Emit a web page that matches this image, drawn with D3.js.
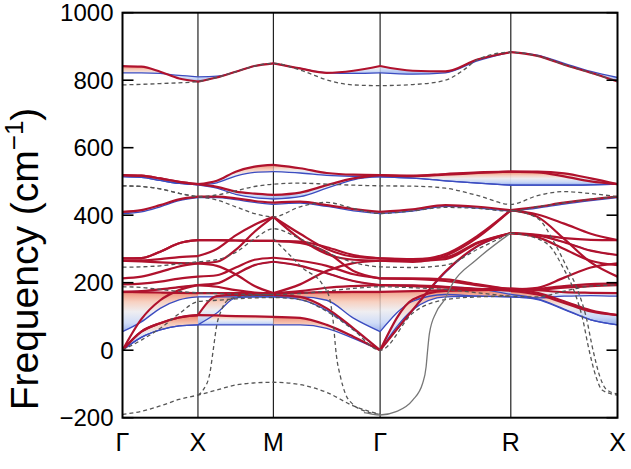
<!DOCTYPE html>
<html><head><meta charset="utf-8">
<script src="https://cdn.jsdelivr.net/npm/d3@7"></script>
<style>body{margin:0;background:#fff} svg{display:block}</style>
</head><body><svg id="chart" width="631" height="469"></svg>
<script>
// ---- axis data ----
const kPoints = [0, 0.5, 1.0, 1.7071, 2.5731, 3.2802];
const kLabels = ["Γ", "X", "M", "Γ", "R", "X"];
const yTicks = [-200, 0, 200, 400, 600, 800, 1000];
const kGrid = [0,0.125,0.25,0.375,0.5, 0.625,0.75,0.875,1.0, 1.1768,1.3536,1.5303,1.7071, 1.9236,2.1401,2.3566,2.5731, 2.7499,2.9267,3.1034,3.2802];

// ---- temperature-dependent bands (hot = highest T, red; cold = lowest T, blue) ----
const bandLO_hot  = [842,840,825,805,796,808,825,842,850,835,822,828,842,828,826,862,883,872,846,822,796];
const bandLO_cold = [822,822,820,814,810,812,825,842,850,835,822,820,822,818,822,858,883,874,850,826,808];
const bandA1_hot  = [519,517,509,499,492,502,529,544,549,539,525,520,519,517,522,527,529,529,524,509,492];
const bandA1_cold = [514,512,503,494,490,496,516,527,529,525,518,515,514,510,502,495,489,489,489,490,492];
const bandA2_hot  = [519,517,509,499,492,484,470,464,460,467,489,509,519,516,520,525,529,527,515,500,492];
const bandA2_cold = [514,512,503,494,490,480,462,452,448,455,480,505,514,510,502,495,489,489,489,490,492];
const bandB_hot   = [410,415,430,447,455,455,450,442,437,440,430,418,410,417,430,425,415,425,437,447,455];
const bandB_cold  = [405,410,425,443,452,452,446,438,432,436,426,413,405,412,426,421,412,421,433,443,452];
const bandTA1_hot  = [0,55,80,97,104,103,101,100,99,96,75,40,0,150,176,178,180,170,145,118,104];
const bandTA1_cold = [0,38,60,72,75,75,75,75,75,75,65,35,0,120,158,160,158,150,120,90,75];
const bandTA2_hot  = [0,55,80,97,104,160,164,164,164,158,124,65,0,120,233,310,347,340,320,295,282];
const bandTA2_cold = [0,38,60,72,75,110,155,158,158,150,118,62,0,118,230,308,347,340,320,295,282];
const bandLA_hot   = [0,92,148,178,193,188,178,171,169,195,235,258,265,262,280,335,415,395,330,260,218];
const bandSoft_hot  = [173,172,171,170,169,169,169,169,169,170,172,173,173,175,178,180,183,178,172,170,169];
const bandSoft_cold = [55,84,124,149,158,158,158,158,158,158,148,95,55,145,165,160,158,155,160,162,160];
const bandS2_hot  = [173,175,180,187,193,198,225,252,262,250,228,205,193,192,188,182,176,165,140,115,104];
const bandS2_cold = [173,175,180,187,193,198,225,252,262,250,228,205,193,192,188,182,165,152,122,90,75];
const bandD_hot   = [195,197,203,212,218,222,245,268,274,265,250,225,213,213,210,195,180,185,215,245,257];
const bandC_hot   = [213,218,232,248,257,262,297,351,395,330,285,268,265,265,270,318,347,342,332,327,326];
const bandC2_hot  = [265,263,260,258,257,250,225,190,169,175,185,190,193,190,185,180,178,182,190,196,198];
const bandBb_hot  = [265,266,270,276,279,300,340,372,395,345,300,277,272,270,275,320,347,335,300,265,252];
const bandAa_hot  = [272,273,292,317,326,326,325,324,324,318,290,235,213,211,205,192,180,180,185,190,193];
const bandAa2_hot = [272,273,292,317,326,326,325,324,324,322,305,282,272,268,285,340,415,402,375,345,326];

// ---- harmonic reference (dashed) and one solid gray branch: [k, frequency] ----
const harmTop = [[0,786],[0.25,790],[0.5,796],[0.625,808],[0.75,825],[0.875,842],[1.0,850],[1.1768,830],[1.392,796],[1.53,786],[1.7071,784],[1.9236,787],[2.1401,800],[2.26,830],[2.3566,862],[2.5731,883],[2.7499,872],[2.9267,846],[3.1034,822],[3.2802,796]];
const harmA1 = [[0,487],[0.125,485],[0.25,478],[0.375,465],[0.5,455],[0.625,460],[0.75,472],[0.875,485],[1.0,492],[1.1768,495],[1.3536,492],[1.5303,489],[1.7071,487],[1.9236,486],[2.1401,480],[2.3566,458],[2.5731,432],[2.7499,458],[2.9267,470],[3.1034,464],[3.2802,455]];
const harmA2 = [[0,487],[0.125,485],[0.25,478],[0.375,465],[0.5,455],[0.625,445],[0.75,425],[0.875,405],[1.0,395],[1.1768,425],[1.3536,438],[1.5303,420],[1.7071,405],[1.9236,413],[2.1401,423],[2.3566,420],[2.5731,412],[2.7499,425],[2.9267,437],[3.1034,447],[3.2802,455]];
const harm246 = [[0,246],[0.125,247],[0.25,250],[0.375,256],[0.5,262],[0.625,268],[0.75,290],[0.875,330],[1.0,360],[1.1768,330],[1.3536,290],[1.5303,260],[1.7071,247],[1.9236,245],[2.1401,252],[2.3566,300],[2.5731,347]];
const harm188 = [[0,188],[0.125,186],[0.25,180],[0.375,174],[0.5,170],[0.625,168],[0.75,166],[0.875,165],[1.0,165],[1.1768,168],[1.3536,175],[1.5303,183],[1.7071,188],[1.9236,185],[2.1401,180],[2.3566,170],[2.5731,160],[2.7499,158],[2.9267,175],[3.1034,190],[3.2802,193]];
const harmAcoustic = [[0,0],[0.125,30],[0.25,65],[0.375,108],[0.5,144],[0.625,148],[0.75,152],[0.875,155],[1.0,156],[1.1768,150],[1.3536,115],[1.5303,60],[1.7071,0],[1.9236,110],[2.1401,150],[2.3566,158],[2.5731,160]];
const harmSoft = [[0,-190],[0.125,-181],[0.25,-165],[0.375,-146],[0.5,-133],[0.625,-118],[0.75,-103],[0.875,-97],[1.0,-95],[1.1768,-102],[1.3536,-125],[1.5303,-165],[1.7071,-190]];
const harmSoftX = [[0.5,-133],[0.534,-118],[0.579,-68],[0.601,0],[0.623,70],[0.656,119],[0.70,149],[0.777,159],[0.88,163],[1.0,165]];
const harmSoftM = [[1.0,330],[1.086,292],[1.196,243],[1.328,193],[1.372,154],[1.394,94],[1.417,-14],[1.445,-80],[1.478,-130],[1.526,-160],[1.604,-180],[1.7071,-190]];
const harmRX1 = [[2.5731,347],[2.753,330],[2.847,300],[2.913,250],[2.993,175],[3.046,99],[3.092,0],[3.138,-79],[3.178,-118],[3.2802,-133]];
const harmRX2 = [[2.5731,415],[2.753,390],[2.86,320],[2.94,250],[3.019,175],[3.072,99],[3.118,0],[3.164,-79],[3.204,-115],[3.2802,-130]];
const solidBranch = [[1.60,-185],[1.637,-188],[1.7071,-192],[1.813,-182],[1.923,-148],[1.989,-98],[2.012,-49],[2.022,0],[2.034,50],[2.078,112],[2.133,149],[2.188,198],[2.343,267],[2.5731,347]];

// ---- scales ----
const svg = d3.select("#chart");
const x = d3.scaleLinear().domain([0, 3.2802]).range([122.5, 617.5]);
const y = d3.scaleLinear().domain([-200, 1000]).range([417.7, 12.7]);
const FONT = "'Liberation Sans', Arial, sans-serif";

const defs = svg.append("defs");
defs.append("clipPath").attr("id", "clip").append("rect")
  .attr("x", x(0)).attr("y", y(1000)).attr("width", x(3.2802) - x(0)).attr("height", y(-200) - y(1000));
const grad = defs.append("linearGradient").attr("id", "fan").attr("x1", 0).attr("y1", 0).attr("x2", 0).attr("y2", 1);
[[0, "#d04a45"], [0.07, "#f0937a"], [0.25, "#f6c9b6"], [0.5, "#ecebef"], [0.78, "#c8d7f6"], [1, "#8fa8ea"]]
  .forEach(([o, c]) => grad.append("stop").attr("offset", o).attr("stop-color", c));

const plot = svg.append("g").attr("clip-path", "url(#clip)");

// high-symmetry vertical lines
plot.selectAll("line.sym").data(kPoints.slice(1, -1)).join("line")
  .attr("x1", d => x(d)).attr("x2", d => x(d)).attr("y1", y(1000)).attr("y2", y(-200))
  .attr("stroke", "#222").attr("stroke-width", 1.2);

const bands = [
  {hot: bandLO_hot, cold: bandLO_cold},
  {hot: bandA1_hot, cold: bandA1_cold},
  {hot: bandA2_hot, cold: bandA2_cold},
  {hot: bandB_hot, cold: bandB_cold},
  {hot: bandTA1_hot, cold: bandTA1_cold},
  {hot: bandTA2_hot, cold: bandTA2_cold},
  {hot: bandLA_hot, cold: null},
  {hot: bandSoft_hot, cold: bandSoft_cold},
  {hot: bandS2_hot, cold: bandS2_cold},
  {hot: bandD_hot, cold: null},
  {hot: bandC_hot, cold: null},
  {hot: bandC2_hot, cold: null},
  {hot: bandBb_hot, cold: null},
  {hot: bandAa_hot, cold: null},
  {hot: bandAa2_hot, cold: null}
];

const segIdx = s => d3.range(4 * s, 4 * s + 5);
const line = d3.line().x(d => x(d[0])).y(d => y(d[1])).curve(d3.curveMonotoneX);
const area = d3.area().x(d => x(d.k)).y0(d => y(d.c)).y1(d => y(d.h)).curve(d3.curveMonotoneX);

const pieces = [];
bands.forEach(b => {
  for (let s = 0; s < 5; s++) {
    const idx = segIdx(s);
    pieces.push({
      hot: idx.map(i => [kGrid[i], b.hot[i]]),
      cold: b.cold ? idx.map(i => [kGrid[i], b.cold[i]]) : null,
      both: b.cold ? idx.map(i => ({k: kGrid[i], h: b.hot[i], c: b.cold[i]})) : null
    });
  }
});

// fans between coldest and hottest curves
plot.append("g").selectAll("path")
  .data(pieces.filter(p => p.both && d3.max(p.both, d => Math.abs(d.h - d.c)) > 3))
  .join("path").attr("d", p => area(p.both))
  .attr("fill", "url(#fan)").attr("fill-opacity", 0.85).attr("stroke", "none");

// coldest curves
plot.append("g").selectAll("path").data(pieces.filter(p => p.cold)).join("path")
  .attr("d", p => line(p.cold)).attr("fill", "none").attr("stroke", "#3b4cc0").attr("stroke-width", 1.3);

// hottest curves
plot.append("g").selectAll("path").data(pieces).join("path")
  .attr("d", p => line(p.hot)).attr("fill", "none").attr("stroke", "#b0122d").attr("stroke-width", 2.2);

// harmonic dashed
const dashed = [harmTop, harmA1, harmA2, harm246, harm188, harmAcoustic, harmSoft, harmSoftX, harmSoftM, harmRX1, harmRX2];
plot.append("g").selectAll("path").data(dashed).join("path")
  .attr("d", d => line(d)).attr("fill", "none").attr("stroke", "#555")
  .attr("stroke-width", 1.3).attr("stroke-dasharray", "4,3");
plot.append("path").attr("d", line(solidBranch)).attr("fill", "none")
  .attr("stroke", "#777").attr("stroke-width", 1.3);

// frame
svg.append("rect").attr("x", x(0)).attr("y", y(1000)).attr("width", x(3.2802) - x(0)).attr("height", y(-200) - y(1000))
  .attr("fill", "none").attr("stroke", "#000").attr("stroke-width", 2);

// y ticks (inward, both sides)
const tk = svg.append("g");
tk.selectAll("line.l").data(yTicks).join("line").attr("class", "l")
  .attr("x1", x(0)).attr("x2", x(0) + 11).attr("y1", d => y(d)).attr("y2", d => y(d))
  .attr("stroke", "#000").attr("stroke-width", 1.6);
tk.selectAll("line.r").data(yTicks).join("line").attr("class", "r")
  .attr("x1", x(3.2802) - 11).attr("x2", x(3.2802)).attr("y1", d => y(d)).attr("y2", d => y(d))
  .attr("stroke", "#000").attr("stroke-width", 1.6);
tk.selectAll("text").data(yTicks).join("text")
  .attr("x", x(0) - 9).attr("y", d => y(d)).attr("dy", "0.36em")
  .attr("text-anchor", "end").attr("font-family", FONT).attr("font-size", 24).attr("fill", "#000")
  .text(d => d < 0 ? "\u2212" + Math.abs(d) : d);

// x labels
svg.append("g").selectAll("text").data(kPoints).join("text")
  .attr("x", d => x(d)).attr("y", 451).attr("text-anchor", "middle")
  .attr("font-family", FONT).attr("font-size", 25).attr("fill", "#000")
  .text((d, i) => kLabels[i]);

// y label
const yl = svg.append("text").attr("transform", "translate(38,259) rotate(-90)")
  .attr("text-anchor", "middle").attr("font-family", FONT).attr("font-size", 39).attr("fill", "#000");
yl.append("tspan").text("Frequency (cm");
yl.append("tspan").attr("dy", -15).attr("font-size", 26).text("\u22121");
yl.append("tspan").attr("dy", 15).text(")");
</script></body></html>
